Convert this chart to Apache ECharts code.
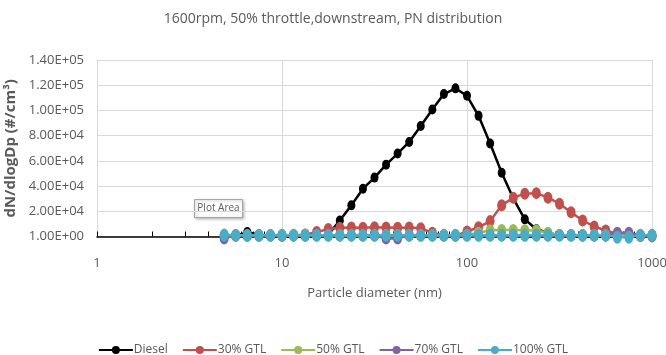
<!DOCTYPE html>
<html>
<head>
<meta charset="utf-8">
<script src="https://cdn.jsdelivr.net/npm/echarts@6/dist/echarts.min.js"></script>
<style>
  html, body { margin: 0; padding: 0; background: #fff; }
  #chart { width: 666px; height: 355px; }
</style>
</head>
<body>
<div id="chart"></div>
<script>
// Particle size bins (nm), DMS-style 16 channels per decade
const diameters = [4.87, 5.62, 6.49, 7.5, 8.66, 10, 11.55, 13.34, 15.4, 17.78,
  20.54, 23.71, 27.38, 31.62, 36.52, 42.17, 48.7, 56.23, 64.94, 74.99,
  86.6, 100, 115.48, 133.35, 153.99, 177.83, 205.35, 237.14, 273.84, 316.23,
  365.17, 421.7, 486.97, 562.34, 649.38, 749.89, 865.96, 1000];

// dN/dlogDp (#/cm3) per fuel
const diesel = [0, 500, 3500, 1500, 300, 0, 0, 0, 200, 1500,
  12700, 24700, 37900, 46700, 57000, 65800, 75000, 87700, 100800, 113000,
  117500, 111600, 95700, 73700, 50600, 30300, 13600, 5700, 3000, 800,
  300, 100, 0, 0, 0, 0, 0, 0];
const gtl30 = [500, 500, 500, 500, 500, 500, 800, 1500, 3500, 6000,
  7000, 7200, 7000, 7300, 7200, 7000, 7100, 6500, 3000, 800,
  500, 4000, 7300, 12200, 24700, 30800, 34000, 34400, 30800, 26000,
  19300, 12700, 8000, 4800, 2100, 800, 300, 0];
const gtl50 = [800, 800, 800, 800, 800, 800, 800, 800, 800, 800,
  800, 800, 800, 800, 800, 800, 800, 800, 800, 800,
  800, 1200, 3000, 5000, 5200, 5200, 5000, 4800, 3000, 1200,
  800, 800, 800, 800, 800, 800, 800, 800];
const gtl70 = [-1500, 800, 800, 800, 800, 800, 800, 800, 800, 800,
  800, 800, 800, 800, -1500, -1500, 800, 800, 800, 800,
  800, 800, 800, 800, 800, 800, 800, 800, 800, 800,
  800, 800, 800, 800, 3000, 3000, 800, 800];
const gtl100 = [1200, 1000, 1000, 1000, 1000, 1000, 1000, 1000, 1000, 1000,
  1000, 1000, 1000, 1000, 1000, 1000, 1000, 1000, 1000, 1000,
  1000, 1000, 1000, 1000, 1000, 1000, 1000, 1000, 1000, 1000,
  1000, 1000, 1000, 1000, -500, -500, 1000, 1000];

const seriesNames = ['Diesel', '30% GTL', '50% GTL', '70% GTL', '100% GTL'];
const seriesColors = ['#000000', '#C0504D', '#9BBB59', '#8064A2', '#4BACC6'];
const seriesValues = [diesel, gtl30, gtl50, gtl70, gtl100];
const markerSizes = [[8, 10], [9, 12], [9, 12], [9, 12], [9, 13]];

// log-axis minor tick positions: 1..9, 10..90, 100..900, 1000
const minorTickValues = [1, 2, 3, 4, 5, 6, 7, 8, 9, 10, 20, 30, 40, 50, 60, 70, 80, 90,
  100, 200, 300, 400, 500, 600, 700, 800, 900, 1000];

const FONT = 'Open Sans, Noto Sans, sans-serif';
const TEXT = '#595959';

function sciLabel(v) {
  if (v === 0) return '1.00E+00';
  const s = v.toExponential(2).toUpperCase(); // e.g. 2.00E+4
  return s.replace(/E([+-])(\d)$/, 'E$10$2');
}

const chart = echarts.init(document.getElementById('chart'), null, { renderer: 'canvas' });

chart.setOption({
  animation: false,
  backgroundColor: '#ffffff',
  title: {
    text: '1600rpm, 50% throttle,downstream, PN distribution',
    left: 'center',
    top: 7,
    textStyle: { color: TEXT, fontFamily: FONT, fontSize: 14, fontWeight: 'normal' }
  },
  grid: { left: 97, right: 14, top: 60, bottom: 118.5, containLabel: false, outerBoundsMode: 'none' },
  legend: {
    top: 339,
    left: 'center',
    itemWidth: 34,
    itemHeight: 10,
    itemGap: 14,
    textStyle: { color: TEXT, fontFamily: FONT, fontSize: 12, padding: [0, 0, 0, -4] },
    data: seriesNames
  },
  xAxis: [{
    type: 'log',
    logBase: 10,
    min: 1,
    max: 1000,
    name: 'Particle diameter (nm)',
    nameLocation: 'middle',
    nameGap: 50,
    nameTextStyle: { color: TEXT, fontFamily: FONT, fontSize: 13 },
    axisLine: { show: true, lineStyle: { color: '#000', width: 1.5 } },
    axisTick: { show: false },
    axisLabel: { color: TEXT, fontFamily: FONT, fontSize: 13, margin: 20,
      formatter: (v) => String(Math.round(v)) },
    splitLine: { show: true, lineStyle: { color: '#d9d9d9', width: 1 } },
    minorSplitLine: { show: false }
  }, {
    type: 'log',
    logBase: 10,
    min: 1,
    max: 1000,
    position: 'bottom',
    axisLine: { show: false },
    axisLabel: { show: false },
    splitLine: { show: false },
    axisTick: {
      show: true,
      inside: true,
      length: 5,
      customValues: minorTickValues,
      lineStyle: { color: '#000', width: 1 }
    }
  }],
  yAxis: {
    type: 'value',
    min: 0,
    max: 140000,
    interval: 20000,
    name: 'dN/dlogDp (#/cm³)',
    nameLocation: 'middle',
    nameGap: 70,
    nameTextStyle: { color: TEXT, fontFamily: FONT, fontSize: 15, fontWeight: 'bold' },
    axisLine: { show: false },
    axisTick: { show: false },
    axisLabel: { color: TEXT, fontFamily: FONT, fontSize: 13, margin: 13, formatter: sciLabel },
    splitLine: { show: true, lineStyle: { color: '#d9d9d9', width: 1 } }
  },
  series: seriesNames.map((name, i) => ({
    name: name,
    type: 'line',
    xAxisIndex: 0,
    data: diameters.map((d, k) => [d, seriesValues[i][k]]),
    symbol: 'circle',
    symbolSize: markerSizes[i],
    showAllSymbol: true,
    clip: false,
    lineStyle: { color: seriesColors[i], width: 2.5 },
    itemStyle: { color: seriesColors[i] },
    z: 2 + i
  })),
  graphic: [{
    type: 'group',
    left: 194,
    top: 199,
    z: 100,
    children: [{
      type: 'rect',
      shape: { x: 0, y: 0, width: 48, height: 18 },
      style: { fill: '#ffffff', stroke: '#a6a6a6', lineWidth: 1,
        shadowBlur: 3, shadowOffsetX: 1, shadowOffsetY: 1, shadowColor: 'rgba(0,0,0,0.3)' }
    }, {
      type: 'text',
      x: 24,
      y: 9,
      style: { text: 'Plot Area', fill: TEXT, font: '10px ' + FONT, align: 'center', verticalAlign: 'middle' }
    }]
  }]
});
</script>
</body>
</html>
